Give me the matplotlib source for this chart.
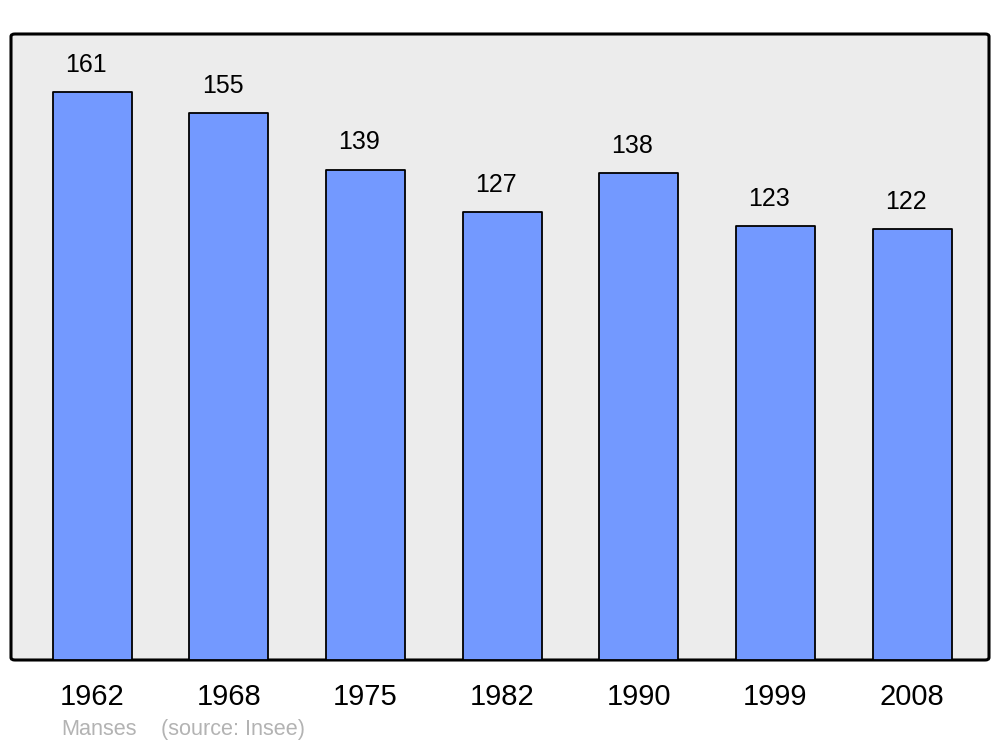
import matplotlib
matplotlib.use("Agg")
import matplotlib.pyplot as plt
from matplotlib.patches import FancyBboxPatch

years = ["1962", "1968", "1975", "1982", "1990", "1999", "2008"]
population = [161, 155, 139, 127, 138, 123, 122]
commune = "Manses"
source = "(source: Insee)"

plt.rcParams['font.family'] = ['Liberation Sans', 'DejaVu Sans']

fig = plt.figure(figsize=(10, 7.47), dpi=100)
ax = fig.add_axes([0.011, 87/747, 0.978, 626/747])
ax.set_xlim(-0.593, 6.563)
ax.set_ylim(0, 177.4)
ax.set_facecolor('none')
for s in ax.spines.values():
    s.set_visible(False)

frame = FancyBboxPatch((0, 0), 1, 1, boxstyle="round,pad=0,rounding_size=0.004",
                       transform=ax.transAxes, facecolor='#ececec', edgecolor='black',
                       linewidth=2.2, zorder=0, clip_on=False)
ax.add_patch(frame)

x = list(range(len(years)))
bars = ax.bar(x, population, width=0.578, color='#7399ff', edgecolor='black',
              linewidth=1.3, zorder=2)
for b in bars:
    b.set_joinstyle('round')

for xi, v in zip(x, population):
    ax.annotate(str(v), (xi, v), xytext=(-4.5, 11), textcoords='offset points',
                ha='center', va='bottom', fontsize=18)

ax.set_xticks(x)
ax.set_xticklabels(years, fontsize=21)
ax.tick_params(axis='x', length=0, pad=16.5)
for lbl in ax.get_xticklabels():
    lbl.set_x(lbl.get_position()[0])
ax.set_yticks([])

fig.text(0.061, 0.0228, commune, fontsize=15.6, color='#b3b3b3', va='center')
fig.text(0.161, 0.0228, source, fontsize=15.6, color='#b3b3b3', va='center')

fig.savefig("out.png", dpi=100)
